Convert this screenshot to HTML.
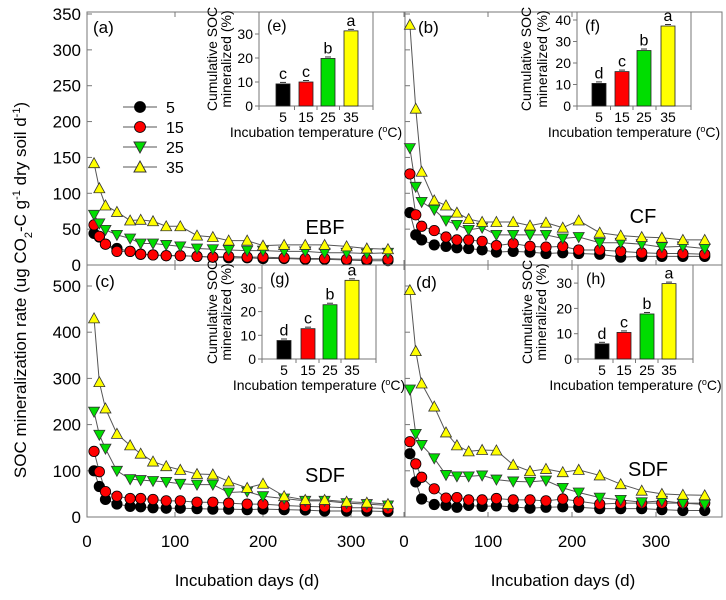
<!DOCTYPE html>
<html><head><meta charset="utf-8"><style>
body{margin:0;background:#fff;}
svg{font-family:"Liberation Sans",Arial,sans-serif;}
</style></head><body>
<svg id="c" width="726" height="595" viewBox="0 0 726 595" xmlns="http://www.w3.org/2000/svg"></svg>
<script>
const temps = ["5","15","25","35"];
const daysLeft = [8,14,21,34,49,61,75,90,106,125,143,161,182,200,224,248,270,295,318,342];
const daysRight = [7,14,21,36,50,63,77,93,110,130,150,169,189,208,233,258,283,307,332,358];
const aT5  = [44,39,29,23,19,15,14,13,13,12,11,10,10,9,9,8,8,7,6,6];
const aT15 = [56,40,29,19,19,15,14,13,13,12,11,12,11,11,10,9,9,8,8,8];
const aT25 = [70,58,49,42,37,30,30,28,26,23,22,21,20,20,19,19,17,17,16,17];
const aT35 = [142,107,83,74,62,63,61,54,54,41,39,34,34,27,28,28,28,26,23,22];
const bT5  = [73,42,35,28,26,24,23,21,18,19,18,16,17,16,15,11,12,12,12,12];
const bT15 = [127,70,54,48,39,35,35,33,27,30,26,25,26,21,21,19,17,16,16,15];
const bT25 = [163,109,88,77,62,56,49,52,42,42,42,42,37,39,31,31,29,25,26,23];
const bT35 = [335,218,130,90,83,73,64,60,60,60,55,59,52,62,45,41,39,38,35,35];
const cT5  = [100,66,38,28,23,22,20,19,19,18,17,17,16,17,16,15,13,13,13,12];
const cT15 = [142,98,55,45,40,40,38,35,35,32,32,30,28,28,25,23,22,20,20,18];
const cT25 = [228,178,148,100,82,80,78,76,72,70,70,53,55,45,40,35,35,30,28,25];
const cT35 = [430,292,235,180,155,137,120,110,102,93,92,77,63,72,45,37,37,33,31,28];
const dT5  = [137,76,39,27,25,21,25,23,24,22,19,21,22,21,18,18,18,16,14,14];
const dT15 = [163,115,86,61,41,42,37,37,40,37,37,35,39,34,28,30,30,30,30,30];
const dT25 = [276,180,156,127,91,88,88,90,81,77,76,79,63,53,42,37,32,35,30,27];
const dT35 = [491,359,289,239,183,155,142,145,144,113,99,104,97,102,90,71,57,50,48,47];
const eVals = [9.2,10,19.8,31.3]; const eLet = ["c","c","b","a"];
const fVals = [10.5,16,25.8,37.2]; const fLet = ["d","c","b","a"];
const gVals = [7.8,12.8,22.9,33.2]; const gLet = ["d","c","b","a"];
const hVals = [6,10.5,17.8,29.8]; const hLet = ["d","c","b","a"];
const topTicks = [0,50,100,150,200,250,300,350];
const botTicks = [0,100,200,300,400,500];
const xTicks = [0,100,200,300];

const NS="http://www.w3.org/2000/svg";
const svg=document.getElementById('c');
function el(tag,attrs,parent){const e=document.createElementNS(NS,tag);for(const k in attrs)e.setAttribute(k,attrs[k]);(parent||svg).appendChild(e);return e;}
function txt(s,x,y,size,anchor,parent){const t=el('text',{x:x,y:y,'font-size':size,'text-anchor':anchor||'middle',fill:'#000'},parent);t.textContent=s;return t;}
const colors=["#000000","#ff0000","#00dd00","#ffff00"];

function panel(name,x0,x1,y0,y1,xs0,xsc,yscale,ticks,labelY,days,series,label,lx,ly,site,sx,sy,showX){
  const g=el('g',{});
  
  
  const X=d=>xs0+d*xsc, Y=v=>y1-v*yscale;
  el('rect',{x:x0,y:y0,width:x1-x0,height:y1-y0,fill:'none',stroke:'#777','stroke-width':1},g);
  ticks.forEach(t=>{const yy=Y(t); if(yy<y0-1)return;
    el('line',{x1:x0,x2:x0+5,y1:yy,y2:yy,stroke:'#777'},g);
    if(labelY){const tl=txt(String(t),x0-6,yy+6,17,'end',g);}
  });
  xTicks.forEach(t=>{const xx=X(t);
    el('line',{x1:xx,x2:xx,y1:y1,y2:y1-5,stroke:'#777'},g);
    el('line',{x1:xx,x2:xx,y1:y0,y2:y0+5,stroke:'#777'},g);
    if(showX){const tl=txt(String(t),xx,y1+30,17,'middle',g);}
  });
  series.forEach((vals,si)=>{
    const pts=vals.map((v,i)=>X(days[i])+','+Y(v)).join(' ');
    const pl=el('polyline',{points:pts,fill:'none',stroke:'#555','stroke-width':1},g);
    
    
  });
  series.forEach((vals,si)=>{
    vals.forEach((v,i)=>{
      const cx=X(days[i]),cy=Y(v);let m;
      if(si<2) m=el('circle',{cx:cx,cy:cy,r:5.2,fill:colors[si],stroke:'#000','stroke-width':0.8},g);
      else if(si==2) m=el('polygon',{points:`${cx-5.5},${cy-4.5} ${cx+5.5},${cy-4.5} ${cx},${cy+5.5}`,fill:colors[si],stroke:'#333','stroke-width':0.8},g);
      else m=el('polygon',{points:`${cx-5.5},${cy+4.5} ${cx+5.5},${cy+4.5} ${cx},${cy-5.5}`,fill:colors[si],stroke:'#333','stroke-width':0.8},g);
      
      
    });
  });
  const pl=txt(label,lx,ly,17,'start',g);
  const st=txt(site,sx,sy,20,'middle',g);
}

function inset(name,x0,x1,y0,y1,yscale,centers,vals,lets,label,ticks,ylx1,ylx2){
  const g=el('g',{});
  
  
  const Y=v=>y1-v*yscale;
  el('rect',{x:x0,y:y0,width:x1-x0,height:y1-y0,fill:'#fff',stroke:'#777'},g);
  ticks.forEach(t=>{const yy=Y(t);if(yy<y0)return;
    el('line',{x1:x0,x2:x0-4,y1:yy,y2:yy,stroke:'#777'},g);
    txt(String(t),x0-6,yy+5,14,'end',g);
  });
  [(centers[0]+centers[1])/2,(centers[1]+centers[2])/2,(centers[2]+centers[3])/2,x0,x1].forEach(xx=>el('line',{x1:xx,x2:xx,y1:y1,y2:y1+4,stroke:'#777'},g));
  vals.forEach((v,i)=>{
    const b=el('rect',{x:centers[i]-7,y:Y(v),width:14,height:v*yscale,fill:colors[i],stroke:'#222','stroke-width':0.8},g);
    
    
    el('line',{x1:centers[i]-3,x2:centers[i]+3,y1:Y(v)-1.5,y2:Y(v)-1.5,stroke:'#333'},g);
    txt(lets[i],centers[i],Y(v)-5,16,'middle',g);
    txt(temps[i],centers[i],y1+16,14,'middle',g);
  });
  const xl=el('text',{x:(x0+x1)/2,y:y1+31,'font-size':14,'text-anchor':'middle'},g);
  xl.innerHTML='Incubation temperature (<tspan baseline-shift="super" font-size="9">o</tspan>C)';
  
  const cy=(y0+y1)/2;
  const a=txt('Cumulative SOC',ylx1,cy,14,'middle',g);a.setAttribute('transform',`rotate(-90 ${ylx1} ${cy})`);
  
  const b2=txt('mineralized (%)',ylx2,cy,14,'middle',g);b2.setAttribute('transform',`rotate(-90 ${ylx2} ${cy})`);
  txt(label,x0+8,y0+19,16,'start',g);
}

const tS=(265-14)/350, bS=(517-286)/500;
panel('panel-a',87,405,12,265,87,0.88,tS,topTicks,true,daysLeft,[aT5,aT15,aT25,aT35],'(a)',93,33,'EBF',325,234,false);
panel('panel-b',405,722,12,265,404,0.84,tS,topTicks,false,daysRight,[bT5,bT15,bT25,bT35],'(b)',418,33,'CF',643,223,false);
panel('panel-c',87,405,265,517,87,0.88,bS,botTicks,true,daysLeft,[cT5,cT15,cT25,cT35],'(c)',95,287,'SDF',325,482,true);
panel('panel-d',405,722,265,517,404,0.84,bS,botTicks,false,daysRight,[dT5,dT15,dT25,dT35],'(d)',416,288,'SDF',648,476,true);

inset('inset-e',259,373,12,106,2.4,[283,306,328,351],eVals,eLet,'(e)',[0,10,20,30],217,231);
inset('inset-f',577,691,12,106,2.15,[599,622,644,668],fVals,fLet,'(f)',[0,10,20,30,40],531,547);
inset('inset-g',262,376,265,359,2.37,[284,308,330,352],gVals,gLet,'(g)',[0,10,20,30],217,231);
inset('inset-h',578,693,265,359,2.53,[602,624,647,669],hVals,hLet,'(h)',[0,10,20,30],532,546);

const lg=el('g',{});


[107,127,147,167].forEach((yy,i)=>{
  el('line',{x1:123,x2:157,y1:yy,y2:yy,stroke:'#555'},lg);
  let m;const cx=140,cy=yy;
  if(i<2) m=el('circle',{cx:cx,cy:cy,r:5.5,fill:colors[i],stroke:'#000','stroke-width':0.8},lg);
  else if(i==2) m=el('polygon',{points:`${cx-6},${cy-5} ${cx+6},${cy-5} ${cx},${cy+6}`,fill:colors[i],stroke:'#333'},lg);
  else m=el('polygon',{points:`${cx-6},${cy+5} ${cx+6},${cy+5} ${cx},${cy-6}`,fill:colors[i],stroke:'#333'},lg);
  
  
  txt(temps[i],166,yy+6,16,'start',lg);
});

const yt=el('text',{x:26,y:290,'font-size':17,'text-anchor':'middle',transform:'rotate(-90 26 290)'});
yt.innerHTML='SOC mineralization rate (ug CO<tspan baseline-shift="sub" font-size="11">2</tspan>-C g<tspan baseline-shift="super" font-size="11">-1</tspan> dry soil d<tspan baseline-shift="super" font-size="11">-1</tspan>)';


const x1t=txt('Incubation days (d)',247,586,17,'middle');


const x2t=txt('Incubation days (d)',563,586,17,'middle');


</script>
</body></html>
